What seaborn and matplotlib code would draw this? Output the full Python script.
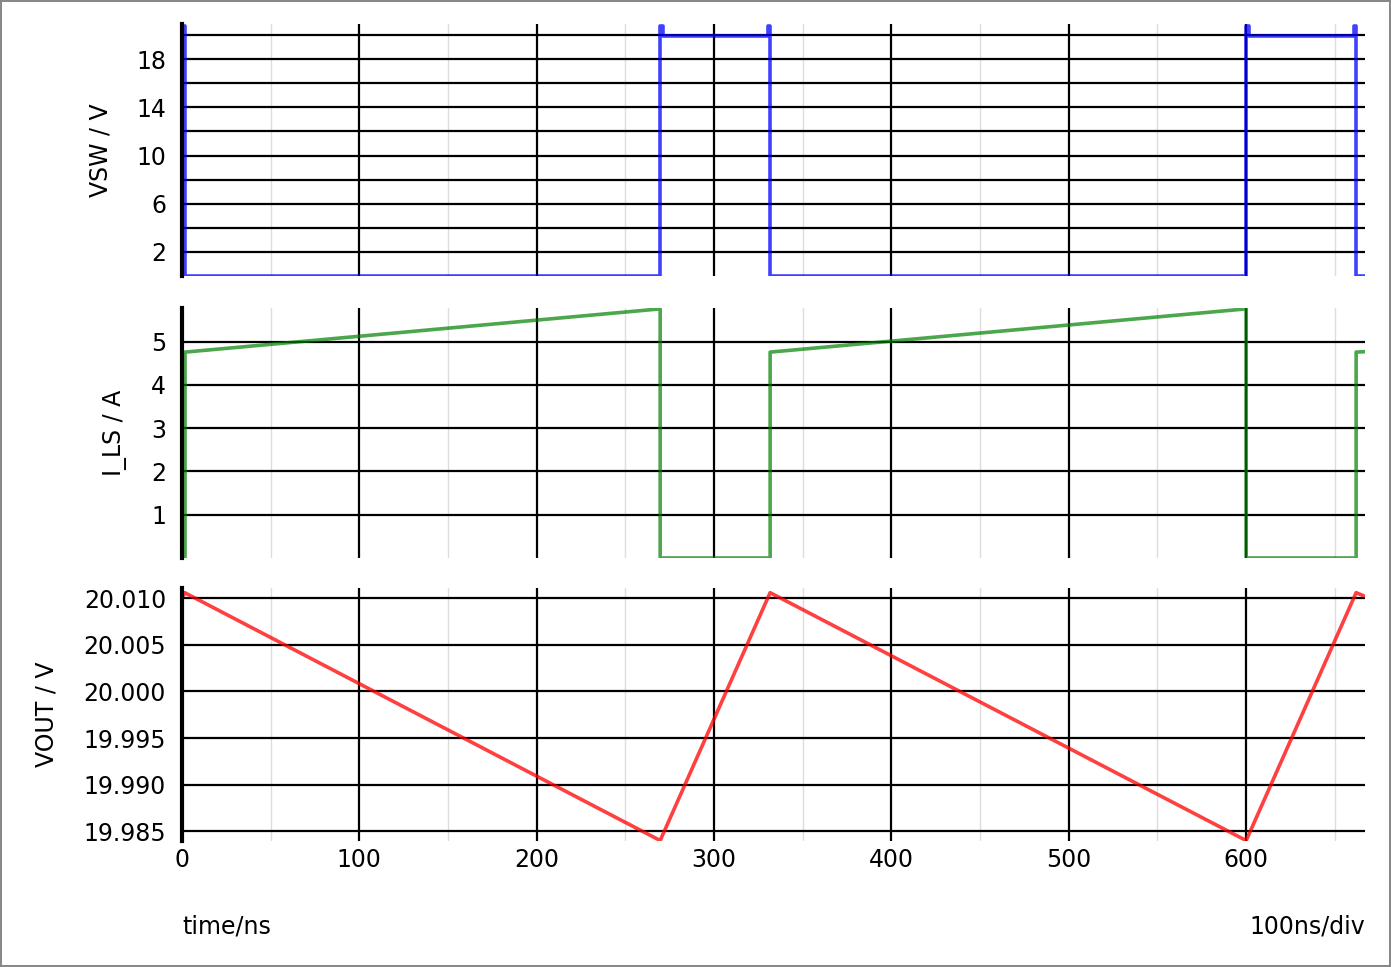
#!/usr/bin/env python3

from matplotlib import pyplot as plt
from matplotlib.ticker import MultipleLocator
import seaborn as sns

# switch-node voltage (ns, V)
vsw_t = [0, 1.5, 1.5, 269.6, 269.6, 271.0, 271.0, 330.4, 330.4, 331.6, 331.6,
         600.0, 600.0, 601.4, 601.4, 660.8, 660.8, 662.0, 662.0, 667.0]
vsw_v = [20.75, 20.75, 0, 0, 20.75, 20.75, 19.9, 19.9, 20.75, 20.75, 0,
         0, 20.75, 20.75, 19.9, 19.9, 20.75, 20.75, 0, 0]

# low-side switch current (ns, A)
ils_t = [0, 1.7, 1.7, 269.6, 269.6, 331.6, 331.6, 600.0, 600.0, 662.0, 662.0, 667.0]
ils_a = [0, 0, 4.76, 5.76, 0, 0, 4.76, 5.76, 0, 0, 4.76, 4.77]

# output voltage (ns, V)
vout_t = [0, 1.5, 269.6, 331.6, 600.0, 662.0, 667.0]
vout_v = [20.0100, 20.0106, 19.9840, 20.0106, 19.9840, 20.0106, 20.0102]

sns.set_style("white")
plt.rcParams["font.family"] = ["DejaVu Sans"]
plt.rcParams["font.size"] = 17
plt.rcParams["text.color"] = "black"
plt.rcParams["axes.labelcolor"] = "black"
plt.rcParams["xtick.color"] = "black"
plt.rcParams["ytick.color"] = "black"

fig = plt.figure(figsize=(13.91, 9.67), dpi=100)
fig.patch.set_edgecolor("#888888")
fig.patch.set_linewidth(1.5)

left, width = 182 / 1391, 1183 / 1391
ax1 = fig.add_axes([left, 1 - 276 / 967, width, 252 / 967])
ax2 = fig.add_axes([left, 1 - 558 / 967, width, 250 / 967])
ax3 = fig.add_axes([left, 1 - 841 / 967, width, 253 / 967])

sns.lineplot(x=vsw_t, y=vsw_v, estimator=None, sort=False, ax=ax1,
             color="#0000ff", alpha=0.75, linewidth=2.6)
sns.lineplot(x=ils_t, y=ils_a, estimator=None, sort=False, ax=ax2,
             color="#008000", alpha=0.7, linewidth=2.6)
sns.lineplot(x=vout_t, y=vout_v, estimator=None, sort=False, ax=ax3,
             color="#ff0000", alpha=0.75, linewidth=2.6)

ax1.set_ylim(0, 20.92)
ax1.set_yticks(range(2, 21, 2))
ax1.set_yticklabels([str(v) if v % 4 == 2 else "" for v in range(2, 21, 2)])
ax2.set_ylim(0, 5.78)
ax2.set_yticks([1, 2, 3, 4, 5])
ax3.set_ylim(19.98395, 20.0111)
ax3.set_yticks([19.985, 19.990, 19.995, 20.000, 20.005, 20.010])
ax3.set_yticklabels(["19.985", "19.990", "19.995", "20.000", "20.005", "20.010"])

labels = [("VSW / V", 113), ("I_LS / A", 127), ("VOUT / V", 59)]
for ax, (lab, px) in zip([ax1, ax2, ax3], labels):
    ax.set_xlim(0, 667)
    ax.xaxis.set_major_locator(MultipleLocator(100))
    ax.xaxis.set_minor_locator(MultipleLocator(50))
    ax.grid(True, which="major", color="black", linewidth=1.6)
    ax.grid(True, which="minor", axis="x", color="#dddddd", linewidth=1.0)
    ax.set_axisbelow(True)
    for s in ["top", "right", "bottom"]:
        ax.spines[s].set_visible(False)
    ax.spines["left"].set_color("black")
    ax.spines["left"].set_linewidth(3)
    ax.tick_params(axis="y", length=0, pad=11.5)
    ax.tick_params(axis="x", which="both", length=0, pad=5)
    ax.set_ylabel(lab)
    ax.yaxis.set_label_coords((px - 182) / 1183, 0.5)
    if ax is not ax3:
        ax.set_xticklabels([])

fig.text(182 / 1391, 1 - 933 / 967, "time/ns", ha="left", va="baseline")
fig.text(1365 / 1391, 1 - 933 / 967, "100ns/div", ha="right", va="baseline")

plt.savefig("out.png", dpi=100, edgecolor=fig.get_edgecolor())
